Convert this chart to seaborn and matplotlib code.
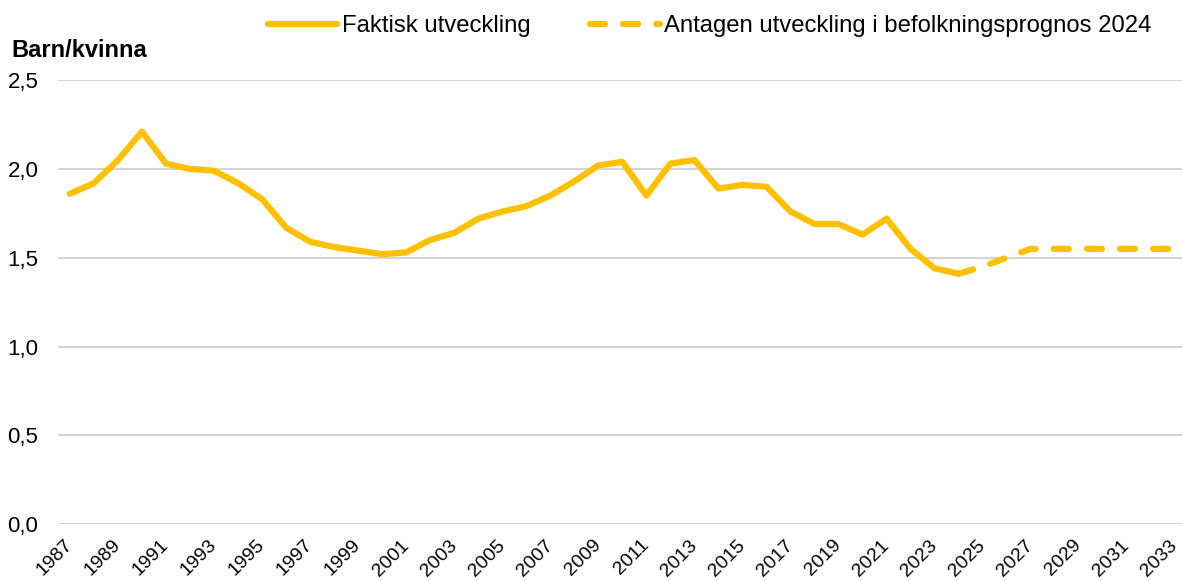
import numpy as np
import pandas as pd
import matplotlib
matplotlib.use("Agg")
import matplotlib.pyplot as plt
import matplotlib.transforms as mtransforms
import seaborn as sns

# actual fertility (barn per kvinna)
years_actual = list(range(1987, 2025))
tfr_actual = [1.86, 1.92, 2.05, 2.21, 2.03, 2.00, 1.99, 1.92, 1.83, 1.67,
              1.59, 1.56, 1.54, 1.52, 1.53, 1.60, 1.64, 1.72, 1.76, 1.79,
              1.85, 1.93, 2.02, 2.04, 1.85, 2.03, 2.05, 1.89, 1.91, 1.90,
              1.76, 1.69, 1.69, 1.63, 1.72, 1.55, 1.44, 1.41]

# assumed in the 2024 population forecast
years_prog = list(range(2024, 2034))
tfr_prog = [1.41, 1.45, 1.50, 1.55, 1.55, 1.55, 1.55, 1.55, 1.55, 1.55]

ytick_vals = [0.0, 0.5, 1.0, 1.5, 2.0, 2.5]
ytick_labels = ["0,0", "0,5", "1,0", "1,5", "2,0", "2,5"]
xtick_years = list(range(1987, 2034, 2))

label_actual = "Faktisk utveckling"
label_prog = "Antagen utveckling i befolkningsprognos 2024"

sns.set_style("white")
plt.rcParams['font.family'] = ['Liberation Sans', 'DejaVu Sans']
plt.rcParams['text.color'] = 'black'
plt.rcParams['xtick.color'] = 'black'
plt.rcParams['ytick.color'] = 'black'

gold = "#FFC000"

df_a = pd.DataFrame({"year": years_actual, "tfr": tfr_actual})
df_p = pd.DataFrame({"year": years_prog, "tfr": tfr_prog})

fig = plt.figure(figsize=(11.82, 5.81), dpi=100)
ax = fig.add_axes([0.049, 0.098, 0.951, 0.764])

for y in ytick_vals:
    ax.axhline(y, color="#CCCCCC", lw=1.2, zorder=0)

sns.lineplot(data=df_a, x="year", y="tfr", ax=ax, color=gold, lw=4.5,
             label=label_actual, solid_capstyle="round", solid_joinstyle="round")
sns.lineplot(data=df_p, x="year", y="tfr", ax=ax, color=gold, lw=4.5,
             label=label_prog, linestyle=(0, (2.4, 2.9)),
             dash_capstyle="round", dash_joinstyle="round")

ax.set_xlim(1986.5, 2033.3)
ax.set_ylim(0, 2.5)
ax.set_yticks(ytick_vals)
ax.set_yticklabels(ytick_labels, fontsize=16)
ax.set_xticks(xtick_years)
ax.set_xticklabels([str(y) for y in xtick_years], fontsize=14, rotation=45,
                   ha="right", rotation_mode="anchor")
ax.tick_params(axis="y", length=0, pad=14)
ax.tick_params(axis="x", length=0, pad=9)
shift = mtransforms.ScaledTranslation(-6 / 100, 0, fig.dpi_scale_trans)
for lbl in ax.get_xticklabels():
    lbl.set_transform(lbl.get_transform() + shift)
ax.set_xlabel("")
ax.set_ylabel("")
for s in ax.spines.values():
    s.set_visible(False)

fig.text(0.010, 0.913, "Barn/kvinna", fontsize=17, fontweight="bold",
         ha="left", va="center", color="black")

ax.legend(loc="center", bbox_to_anchor=(0.580, 1.122), ncol=2, frameon=False,
          fontsize=17.2, handlelength=2.9, handletextpad=0.2, columnspacing=2.5,
          labelcolor="black")

fig.savefig("out.png", dpi=100)
